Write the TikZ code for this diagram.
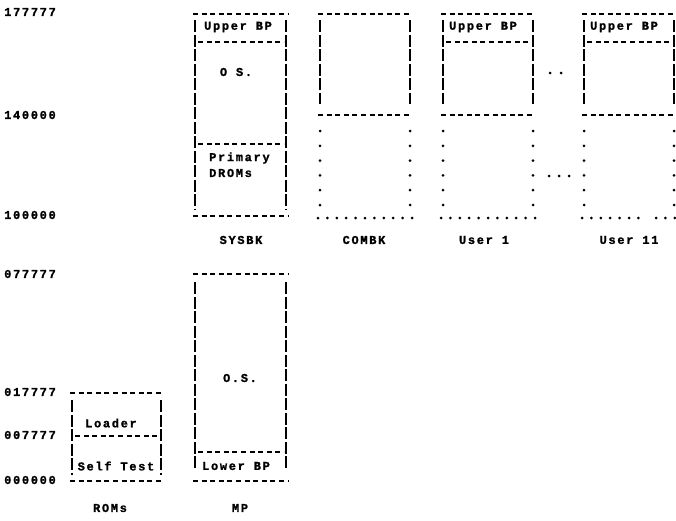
\documentclass[tikz,border=0pt]{standalone}
\usepackage{fontspec}
\newfontfamily\typefont[LetterSpace=14,BoldFeatures={FakeBold=1.2}]{Liberation Mono}
\usepackage{tikz}
\tikzset{hdash/.style={line width=1.8pt,dash pattern=on 5pt off 3.6pt},
 vdash/.style={line width=1.8pt,dash pattern=on 12pt off 2.5pt},
 dots/.style={line width=3pt,line cap=round,dash pattern=on 0pt off 14.8pt},
 hdots/.style={line width=3pt,line cap=round,dash pattern=on 0pt off 9.4pt},
 every node/.style={font=\typefont\bfseries\fontsize{12}{13}\selectfont,inner sep=0pt}}

\begin{document}
\begin{tikzpicture}[x=1pt,y=-1pt,addr/.style={anchor=west}]
\useasboundingbox (0,0) rectangle (676,520);
% addresses
\node[addr] (a177777) at (4,12) {177777};
\node[addr] (a140000) at (4,115) {140000};
\node[addr] (a100000) at (4,215) {100000};
\node[addr] (a077777) at (4,274) {077777};
\node[addr] (a017777) at (4,392) {017777};
\node[addr] (a007777) at (4,435) {007777};
\node[addr] (a000000) at (4,480) {000000};
% SYSBK
\draw[hdash] (193,14)--(288,14);
\draw[vdash] (195,20)--(195,210) (286,20)--(286,210);
\draw[hdash] (198,42)--(284,42) (198,144)--(284,144);
\draw[hdash] (193,216)--(288,216);
\node (sysupper) at (238,27) {Upper BP};
\node (sysos) at (236,72) {O S.};
\node[anchor=west] (sysprim) at (209,158) {Primary};
\node[anchor=west] (sysdrom) at (209,173) {DROMs};
\node (sysbk) at (241,240) {SYSBK};
% COMBK
\draw[hdash] (318,14)--(412,14);
\draw[vdash] (320,20)--(320,104) (410,20)--(410,104);
\draw[hdash] (318,115)--(412,115);
\draw[dots] (320,131)--(320,206) (410,131)--(410,206);
\draw[hdots] (318,218)--(412,218);
\node (combk) at (364,240) {COMBK};
% User 1
\draw[hdash] (441,14)--(535,14);
\draw[vdash] (443,20)--(443,104) (533,20)--(533,104);
\draw[hdash] (446,42)--(531,42);
\draw[hdash] (441,115)--(535,115);
\draw[dots] (443,131)--(443,206) (533,131)--(533,206);
\draw[hdots] (441,218)--(535,218);
\node (u1upper) at (483,27) {Upper BP};
\node (user1) at (484,240) {User 1};
% between the users
\fill (550,73) circle (1.5) (561,73) circle (1.5);
\fill (549,176) circle (1.5) (559,176) circle (1.5) (569,176) circle (1.5);
% User 11
\draw[hdash] (582,14)--(676,14);
\draw[vdash] (584,20)--(584,104) (674,20)--(674,104);
\draw[hdash] (587,42)--(672,42);
\draw[hdash] (582,115)--(676,115);
\draw[dots] (584,131)--(584,206) (674,131)--(674,206);
\draw[hdots] (582,218)--(640,218) (656,218)--(676,218);
\node (u11upper) at (624,27) {Upper BP};
\node (user11) at (629,240) {User 11};
% ROMs
\draw[hdash] (70,393)--(163,393);
\draw[vdash] (72,400)--(72,475) (161,400)--(161,475);
\draw[hdash] (75,436)--(159,436);
\draw[hdash] (70,481)--(163,481);
\node (loader) at (111,423) {Loader};
\node (selftest) at (116,466) {Self Test};
\node (roms) at (110,508) {ROMs};
% MP
\draw[hdash] (193,274)--(288,274);
\draw[vdash] (195,282)--(195,470) (286,282)--(286,470);
\draw[hdash] (198,452)--(284,452);
\draw[hdash] (193,481)--(288,481);
\node (mpos) at (240,378) {O.S.};
\node (lowerbp) at (236,466) {Lower BP};
\node (mp) at (240,508) {MP};
\end{tikzpicture}
\end{document}
